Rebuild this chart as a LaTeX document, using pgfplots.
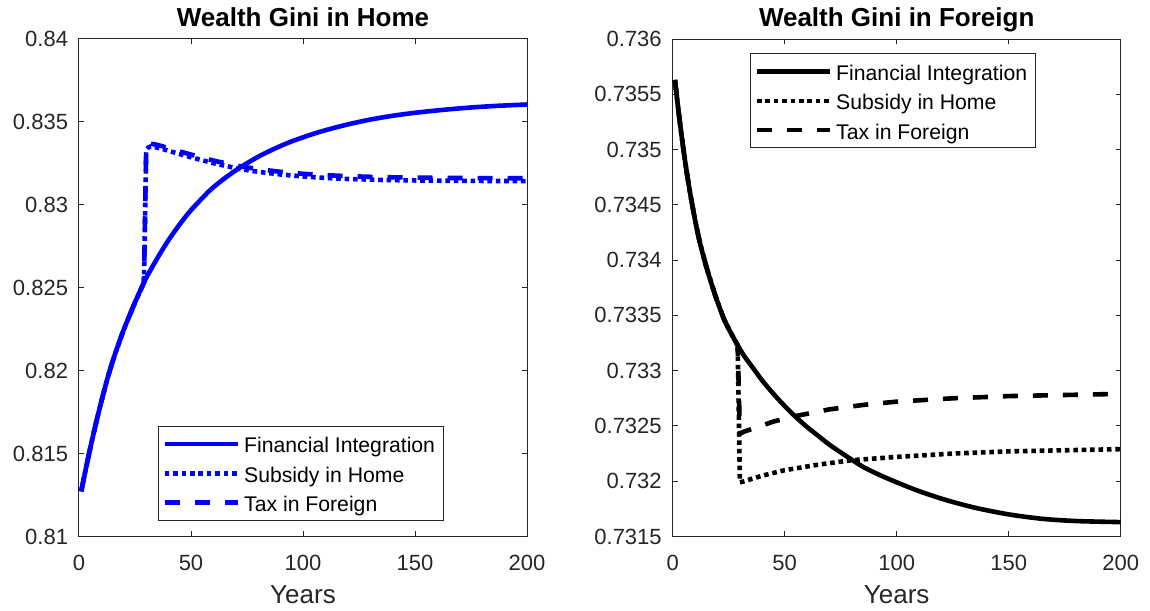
\documentclass[border=0pt]{standalone}
\usepackage{pgfplots}
\pgfplotsset{compat=1.18}
\usepackage{fontspec}
\setmainfont{Liberation Sans}
\definecolor{axgray}{RGB}{38,38,38}
\pgfplotsset{
  mystyle/.style={
    scale only axis, width=224pt, height=248.75pt,
    xmin=0, xmax=200, xtick={0,50,100,150,200},
    tick align=inside,
    major tick length=2.5pt,
    axis line style={axgray, line width=0.5pt},
    every tick/.style={axgray, line width=0.5pt},
    ticklabel style={font=\fontsize{11}{13}\selectfont, text=axgray},
    /pgf/number format/assume math mode=true,
    scaled y ticks=false, scaled x ticks=false,
    yticklabel style={/pgf/number format/fixed, /pgf/number format/precision=4, inner sep=0pt, xshift=-5.3pt},
    xticklabel style={inner sep=0pt, yshift=-9pt},
    title style={font=\bfseries\fontsize{13}{15}\selectfont, anchor=base, at={(0.5,1)}, yshift=0.3pt},
    xlabel style={font=\fontsize{13}{15}\selectfont, text=axgray, at={(axis description cs:0.5,0)}, anchor=center, yshift=-29pt},
    legend cell align=left,
    legend style={draw=axgray, line width=0.5pt, fill=white, inner xsep=2pt, inner ysep=1.5pt, row sep=0pt,
      font=\fontsize{10.6}{12}\selectfont,
      nodes={inner xsep=2pt, inner ysep=1pt, text height=10.85pt, text depth=1.8pt}},
    legend image code/.code={\draw[##1] (0pt,0pt) -- (36.5pt,0pt);},
  },
  solidline/.style={line width=2.3pt, line join=round, smooth},
  dotline/.style={line width=2.3pt, dash pattern=on 2.3pt off 1.9pt},
  dashline/.style={line width=2.3pt, dash pattern=on 7.5pt off 7.5pt},
}
\begin{document}
\begin{tikzpicture}
\path[use as bounding box] (0pt,0pt) rectangle (575pt,305pt);
% ---------------- Left: Home ----------------
\begin{axis}[mystyle, at={(39.5pt,36.75pt)}, anchor=south west,
  ymin=0.81, ymax=0.84, ytick={0.81,0.815,0.82,0.825,0.83,0.835,0.84},
  title={Wealth Gini in Home}, xlabel={Years},
  legend style={at={(0.1765,0.0318)}, anchor=south west}]
\addplot[blue, solidline] coordinates {
(1,0.81272)(2,0.81340)(3,0.81405)(4,0.81469)(5,0.81531)(6,0.81591)(7,0.81650)(8,0.81707)(9,0.81762)(10,0.81815)
(11,0.81867)(12,0.81918)(13,0.81967)(15,0.82055)(17,0.82136)(20,0.82248)(25,0.82412)(29,0.82531)(30,0.82560)
(35,0.82679)(40,0.82788)(45,0.82883)(50,0.82968)(57,0.83068)(60,0.83106)(65,0.83160)(72,0.83226)(80,0.83290)
(85,0.83324)(90,0.83355)(95,0.83383)(100,0.83407)(107,0.83438)(115,0.83468)(122,0.83491)(130,0.83514)
(140,0.83537)(150,0.83555)(162,0.83572)(175,0.83587)(187,0.83597)(200,0.83605)};
\addlegendentry{Financial Integration}
\addplot[blue, dotline] coordinates {
(1,0.81272)(2,0.81340)(3,0.81405)(4,0.81469)(5,0.81531)(6,0.81591)(7,0.81650)(8,0.81707)(9,0.81762)(10,0.81815)
(11,0.81867)(12,0.81918)(13,0.81967)(15,0.82055)(17,0.82136)(20,0.82248)(25,0.82412)(29,0.82531)
(30,0.83330)(31,0.83346)(32,0.83352)(34,0.83348)(37,0.83338)(40,0.83326)(45,0.83306)(50,0.83287)(55,0.83269)
(60,0.83251)(66,0.83233)(72,0.83216)(80,0.83199)(90,0.83183)(100,0.83171)(110,0.83162)(120,0.83156)
(135,0.83150)(150,0.83147)(165,0.83145)(180,0.83144)(200,0.83143)};
\addlegendentry{Subsidy in Home}
\addplot[blue, dashline] coordinates {
(1,0.81272)(2,0.81340)(3,0.81405)(4,0.81469)(5,0.81531)(6,0.81591)(7,0.81650)(8,0.81707)(9,0.81762)(10,0.81815)
(11,0.81867)(12,0.81918)(13,0.81967)(15,0.82055)(17,0.82136)(20,0.82248)(25,0.82412)(29,0.82531)
(30,0.83345)(31,0.83362)(32,0.83368)(34,0.83364)(37,0.83354)(40,0.83342)(45,0.83322)(50,0.83303)(55,0.83285)
(60,0.83267)(66,0.83249)(72,0.83232)(80,0.83215)(90,0.83199)(100,0.83187)(110,0.83179)(120,0.83173)
(135,0.83167)(150,0.83164)(165,0.83162)(180,0.83161)(200,0.83160)};
\addlegendentry{Tax in Foreign}
\end{axis}
% ---------------- Right: Foreign ----------------
\begin{axis}[mystyle, at={(336.35pt,36.75pt)}, anchor=south west,
  ymin=0.7315, ymax=0.736, ytick={0.7315,0.732,0.7325,0.733,0.7335,0.734,0.7345,0.735,0.7355,0.736},
  title={Wealth Gini in Foreign}, xlabel={Years},
  legend style={at={(0.1728,0.971)}, anchor=north west}]
\addplot[black, solidline] coordinates {
(1,0.73563)(2,0.73545)(3,0.73528)(4,0.73512)(5,0.73497)(6,0.73483)(7,0.73470)(8,0.73458)(9,0.73447)(10,0.73436)
(12,0.73417)(15,0.73394)(19,0.73368)(23,0.73346)(26,0.73334)(29,0.73323)(32,0.73313)(36,0.73302)(40,0.73291)
(45,0.73279)(50,0.73268)(55,0.73258)(60,0.73249)(65,0.73241)(70,0.73233)(78,0.73222)(85,0.73213)(92,0.73206)
(100,0.73199)(110,0.73191)(122,0.73183)(135,0.73176)(150,0.73170)(165,0.73166)(180,0.73164)(200,0.73163)};
\addlegendentry{Financial Integration}
\addplot[black, dotline] coordinates {
(1,0.73563)(2,0.73545)(3,0.73528)(4,0.73512)(5,0.73497)(6,0.73483)(7,0.73470)(8,0.73458)(9,0.73447)(10,0.73436)
(12,0.73417)(15,0.73394)(19,0.73368)(23,0.73346)(26,0.73334)(29,0.73323)
(30,0.73199)(32,0.73200)(35,0.73202)(40,0.73205)(50,0.73210)(65,0.73215)(80,0.73219)(100,0.73222)
(125,0.73225)(150,0.73227)(175,0.73228)(200,0.73229)};
\addlegendentry{Subsidy in Home}
\addplot[black, dashline] coordinates {
(1,0.73563)(2,0.73545)(3,0.73528)(4,0.73512)(5,0.73497)(6,0.73483)(7,0.73470)(8,0.73458)(9,0.73447)(10,0.73436)
(12,0.73417)(15,0.73394)(19,0.73368)(23,0.73346)(26,0.73334)(29,0.73323)
(30,0.73243)(32,0.73245)(35,0.73247)(45,0.73254)(55,0.73259)(70,0.73265)(85,0.73269)(100,0.73272)
(125,0.73275)(150,0.73277)(175,0.73278)(200,0.73279)};
\addlegendentry{Tax in Foreign}
\end{axis}
\end{tikzpicture}
\end{document}
